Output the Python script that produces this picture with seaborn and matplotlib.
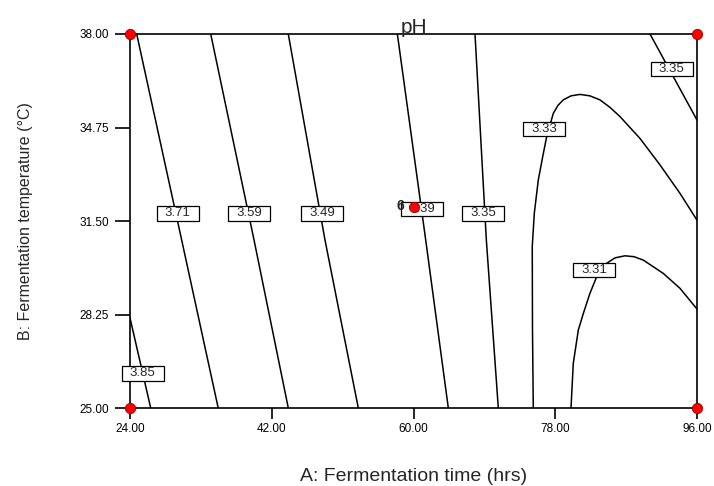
import numpy as np
import pandas as pd
import matplotlib
matplotlib.use("Agg")
import matplotlib.pyplot as plt
import seaborn as sns
from matplotlib.path import Path

# ---------------- data ----------------
# contour lines: A = fermentation time (hrs), B = fermentation temperature (degC)
c385_A = [24.00, 26.63]
c385_B = [28.13, 25.00]
c371_A = [24.85, 30.56, 35.20]
c371_B = [38.00, 30.84, 25.00]
c359_A = [34.25, 39.75, 44.10]
c359_B = [38.00, 30.84, 25.00]
c349_A = [44.10, 48.76, 52.99]
c349_B = [38.00, 30.84, 25.00]
c339_A = [57.95, 61.55, 64.42]
c339_B = [38.00, 30.84, 25.00]
c335_A = [67.81, 69.25, 70.77]
c335_B = [38.00, 30.84, 25.00]
c335b_A = [90.03, 96.00]
c335b_B = [38.00, 35.01]
c333_A = [75.21, 75.11, 75.08, 75.34, 75.85, 76.41, 76.91, 77.75, 78.35, 79.02, 80.00,
          81.14, 82.40, 83.68, 84.95, 86.22, 88.76, 91.30, 93.84, 96.00]
c333_B = [25.00, 27.71, 30.61, 31.77, 32.93, 33.74, 34.43, 35.24, 35.52, 35.71, 35.85,
          35.90, 35.85, 35.71, 35.45, 35.13, 34.37, 33.45, 32.46, 31.53]
c331_A = [80.00, 80.29, 80.93, 81.57, 82.41, 83.26, 84.53, 85.60, 86.86, 88.00, 89.19,
          91.71, 93.84, 96.00]
c331_B = [25.00, 26.55, 27.71, 28.29, 28.99, 29.56, 30.03, 30.22, 30.29, 30.26, 30.14,
          29.68, 29.16, 28.44]

# contour labels
label_text = ["3.85", "3.71", "3.59", "3.49", "3.39", "3.35", "3.33", "3.35", "3.31"]
label_A = [25.61, 30.05, 39.15, 48.42, 61.13, 68.87, 76.57, 92.78, 82.96]
label_B = [26.21, 31.77, 31.77, 31.77, 31.92, 31.77, 34.70, 36.78, 29.80]

# design points
design_A = [24, 24, 96, 96, 60]
design_B = [25, 38, 25, 38, 32.0]
center_count = "6"

x_ticks = [24.00, 42.00, 60.00, 78.00, 96.00]
y_ticks = [25.00, 28.25, 31.50, 34.75, 38.00]

# ---------------- build long table ----------------
lines = {
    "3.85": (c385_A, c385_B), "3.71": (c371_A, c371_B), "3.59": (c359_A, c359_B),
    "3.49": (c349_A, c349_B), "3.39": (c339_A, c339_B), "3.35a": (c335_A, c335_B),
    "3.35b": (c335b_A, c335b_B), "3.33": (c333_A, c333_B), "3.31": (c331_A, c331_B),
}
rows = []
for key, (aa, bb) in lines.items():
    for i, (a, b) in enumerate(zip(aa, bb)):
        rows.append({"contour": key, "A": a, "B": b, "order": i})
df = pd.DataFrame(rows)

# ---------------- style ----------------
sns.set_style("white")
plt.rcParams["font.family"] = ["Liberation Sans", "DejaVu Sans"]

fig = plt.figure(figsize=(7.14, 4.86), dpi=100)
ax = fig.add_axes([130 / 714, 78 / 486, 567 / 714, 374 / 486])

sns.lineplot(data=df, x="A", y="B", units="contour", estimator=None, sort=False,
             color="black", linewidth=1.1, legend=False, ax=ax, zorder=2)


def wide_box(x0, y0, width, height, mutation_size, *args):
    padx = 0.62 * mutation_size
    pady = 0.10 * mutation_size
    x0 -= padx
    x1 = x0 + width + 2 * padx
    y0 -= pady
    y1 = y0 + height + 2 * pady
    return Path([(x0, y0), (x1, y0), (x1, y1), (x0, y1), (x0, y0)], closed=True)


for t, a, b in zip(label_text, label_A, label_B):
    ax.text(a, b, t, ha="center", va="center", fontsize=9.5, zorder=5,
            bbox=dict(boxstyle=wide_box, fc="white", ec="black", lw=0.9))

sns.scatterplot(x=design_A, y=design_B, ax=ax, s=55, color="#ff0000",
                edgecolor="#9b0000", linewidth=0.6, zorder=6, legend=False)
ax.collections[-1].set_clip_on(False)
ax.text(58.8, 32.03, center_count, ha="right", va="center", fontsize=10,
        fontweight="bold", zorder=7)

ax.set_xlim(24, 96)
ax.set_ylim(25, 38)
ax.set_xticks(x_ticks)
ax.set_yticks(y_ticks)
ax.set_xticklabels([f"{v:.2f}" for v in x_ticks], fontsize=8.5)
ax.set_yticklabels([f"{v:.2f}" for v in y_ticks], fontsize=8.5)
ax.tick_params(axis="x", direction="out", length=8, width=1.2, pad=3, colors="black")
ax.tick_params(axis="y", direction="out", length=11, width=1.2, pad=4, colors="black")
ax.tick_params(left=True, bottom=True)

for sp in ax.spines.values():
    sp.set_visible(True)
    sp.set_color("black")
    sp.set_linewidth(1.2)

ax.set_title("pH", fontsize=15, pad=1)
ax.set_xlabel("A: Fermentation time (hrs)", fontsize=14, va="top")
ax.set_ylabel("B: Fermentation temperature (\u00b0C)", fontsize=11.5)
ax.xaxis.set_label_coords(0.5, -0.160)
ax.yaxis.set_label_coords(-0.171, 0.5)

fig.savefig("out.png", dpi=100)
